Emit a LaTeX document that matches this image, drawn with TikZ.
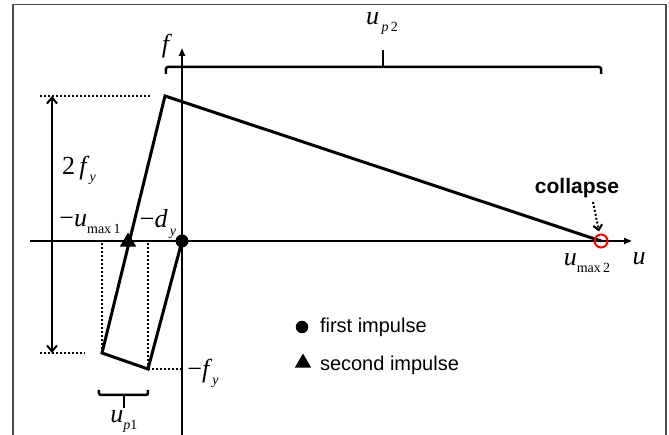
\documentclass[tikz,border=0pt]{standalone}
\usepackage{fontspec}
\newfontfamily\arialfont{Liberation Sans}
\newfontfamily\tmsfont{Liberation Serif}
\newcommand{\lo}[1]{\raisebox{-0.27em}{\fontsize{14}{14}\selectfont #1}}
\usetikzlibrary{arrows.meta,shapes.geometric}

\begin{document}
\begin{tikzpicture}[x=1pt,y=1pt,line width=2pt,>={Triangle[length=8pt,width=6pt]},
  lbl/.style={font=\tmsfont\fontsize{26}{28}\selectfont,inner sep=0pt},
  dots/.style={line width=2pt,dash pattern=on 2pt off 2pt},
  brk/.style={line width=2.5pt,rounded corners=2pt},
  legtxt/.style={font=\arialfont\fontsize{20}{24}\selectfont,anchor=base west,inner sep=0pt},
  dotmark/.style={circle,fill=black,inner sep=0pt,minimum size=13pt},
  trimark/.style={regular polygon,regular polygon sides=3,fill=black,inner sep=0pt,minimum size=19pt}]
  \useasboundingbox (-182,-194) rectangle (487,241);
  % marco
  \draw[line width=1.3pt,black!70] (-169,-194) -- (-169,236.5) -- (484,236.5) -- (484,-194);
  % ejes
  \draw[->] (-152,0) -- (450,0);
  \draw[->] (0,-194) -- (0,193);
  \node[lbl] (flab) at (-15,195) {\textit{f}};
  \node[lbl] (ulab) at (457,-18) {\textit{u}};
  % lazo fuerza-desplazamiento
  \coordinate (O) at (0,0);
  \coordinate (A) at (-34,-128);
  \coordinate (B) at (-80,-112);
  \coordinate (C) at (-17,145);
  \coordinate (D) at (419,0);
  \draw[line width=3pt,line join=miter] (O) -- (A) -- (B) -- (C) -- (D);
  % lineas auxiliares
  \draw[dots] (-142,145) -- (-32,145);
  \draw[dots] (-142,-112) -- (-97,-112);
  \draw[dots] (A) -- (A |- O);
  \draw[dots] (B) -- (B |- O);
  \draw[dots] (A) -- (0,-128);
  % cota 2f_y
  \draw[{Straight Barb[length=6pt,width=10pt]}-{Straight Barb[length=6pt,width=10pt]}] (-130,145) -- (-130,-112);
  \node[lbl] (fy2) at (-103,71) {2\,\textit{f}\lo{\textit{y}}};
  \node[lbl] (umax1) at (-92,17) {−\textit{u}\lo{max\,1}};
  \node[lbl] (dy) at (-24,17) {−\textit{d}\lo{\,\textit{y}}};
  \node[lbl] (fy) at (21,-132) {−\textit{f}\lo{\textit{y}}};
  \node[lbl] (umax2) at (405,-22) {\textit{u}\lo{max\,2}};
  % llaves
  \draw[brk] (-83,-149) -- (-83,-154) -- (-34,-154) -- (-34,-149);
  \draw[line width=2.5pt] (-58,-154) -- (-58,-167);
  \node[lbl] (up1) at (-58,-181) {\textit{u}\lo{\textit{p}1}};
  \draw[brk] (-16,167) -- (-16,174) -- (419,174) -- (419,167);
  \draw[line width=2.5pt] (201,174) -- (201,191);
  \node[lbl] (up2) at (200,217) {\textit{u}\lo{\,\textit{p}\,2}};
  % impulsos y colapso
  \node[dotmark] (p1) at (O) {};
  \node[trimark] (p2) at (-54,-1) {};
  \node[circle,draw=red,line width=2pt,minimum size=13pt,inner sep=0pt] (rc) at (D) {};
  \node[font=\arialfont\bfseries\fontsize{21}{24}\selectfont,inner sep=1pt] (col) at (395,53) {collapse};
  \coordinate (colstart) at (411,39);
  \draw[dots,-{Straight Barb[length=5pt,width=9pt]}] (colstart) -- ([xshift=-2pt,yshift=2pt]rc.north);
  % leyenda
  \node[dotmark,minimum size=12.5pt] (legdot) at (120,-86) {};
  \node[legtxt] (legfirst) at (137,-92) {first impulse};
  \node[trimark] (legtri) at (121,-122) {};
  \node[legtxt] (legsecond) at (137,-130) {second impulse};
\end{tikzpicture}
\end{document}
